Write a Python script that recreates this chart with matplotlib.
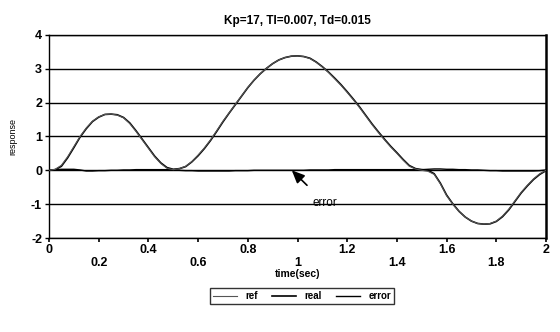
import numpy as np
import matplotlib.pyplot as plt

t = [0.000, 0.025, 0.050, 0.075, 0.100, 0.125, 0.150, 0.175, 0.200, 0.225,
     0.250, 0.275, 0.300, 0.325, 0.350, 0.375, 0.400, 0.425, 0.450, 0.475,
     0.500, 0.525, 0.550, 0.575, 0.600, 0.625, 0.650, 0.675, 0.700, 0.725,
     0.750, 0.775, 0.800, 0.825, 0.850, 0.875, 0.900, 0.925, 0.950, 0.975,
     1.000, 1.025, 1.050, 1.075, 1.100, 1.125, 1.150, 1.175, 1.200, 1.225,
     1.250, 1.275, 1.300, 1.325, 1.350, 1.375, 1.400, 1.425, 1.450, 1.475,
     1.500, 1.525, 1.550, 1.575, 1.600, 1.625, 1.650, 1.675, 1.700, 1.725,
     1.750, 1.775, 1.800, 1.825, 1.850, 1.875, 1.900, 1.925, 1.950, 1.975, 2.000]
ref = [0.00, 0.03, 0.15, 0.40, 0.70, 1.00, 1.25, 1.45, 1.58, 1.65,
       1.66, 1.63, 1.55, 1.38, 1.15, 0.90, 0.65, 0.40, 0.20, 0.06,
       0.02, 0.05, 0.12, 0.26, 0.45, 0.66, 0.90, 1.17, 1.45, 1.70,
       1.95, 2.20, 2.45, 2.66, 2.85, 3.01, 3.15, 3.26, 3.33, 3.37,
       3.38, 3.36, 3.30, 3.19, 3.05, 2.89, 2.70, 2.51, 2.30, 2.08,
       1.85, 1.60, 1.35, 1.12, 0.90, 0.69, 0.50, 0.30, 0.12, 0.04,
       0.00, -0.03, -0.12, -0.40, -0.75, -1.00, -1.22, -1.38, -1.50, -1.57,
       -1.59, -1.57, -1.50, -1.35, -1.15, -0.90, -0.65, -0.44, -0.25, -0.10, 0.00]
real = [0.00, 0.02, 0.12, 0.37, 0.67, 0.98, 1.23, 1.44, 1.57, 1.65,
        1.66, 1.64, 1.56, 1.40, 1.17, 0.92, 0.67, 0.42, 0.22, 0.08,
        0.03, 0.05, 0.11, 0.25, 0.43, 0.64, 0.88, 1.15, 1.43, 1.69,
        1.94, 2.19, 2.44, 2.66, 2.85, 3.01, 3.15, 3.26, 3.33, 3.37,
        3.38, 3.36, 3.31, 3.20, 3.06, 2.90, 2.72, 2.53, 2.32, 2.10,
        1.87, 1.62, 1.37, 1.14, 0.92, 0.71, 0.52, 0.32, 0.14, 0.05,
        0.02, 0.00, -0.10, -0.38, -0.73, -0.99, -1.21, -1.38, -1.50, -1.57,
        -1.59, -1.58, -1.51, -1.37, -1.17, -0.92, -0.67, -0.46, -0.27, -0.12, -0.01]
error = [0.00, 0.02, 0.03, 0.03, 0.03, 0.01, -0.02, -0.02, -0.01, -0.01,
         0.00, 0.00, 0.01, 0.01, 0.02, 0.02, 0.02, 0.02, 0.02, 0.02,
         0.01, 0.00, -0.01, -0.01, -0.02, -0.02, -0.02, -0.02, -0.02, -0.02,
         -0.01, -0.01, -0.01, 0.00, 0.00, 0.00, 0.00, 0.00, 0.00, 0.00,
         0.00, 0.00, 0.01, 0.01, 0.01, 0.01, 0.02, 0.02, 0.02, 0.02,
         0.02, 0.02, 0.02, 0.02, 0.02, 0.02, 0.02, 0.02, 0.02, 0.02,
         0.02, 0.03, 0.04, 0.04, 0.03, 0.03, 0.02, 0.02, 0.01, 0.01,
         0.00, -0.01, -0.01, -0.02, -0.02, -0.02, -0.02, -0.02, -0.02, -0.01, 0.01]

xticks = [0, 0.2, 0.4, 0.6, 0.8, 1.0, 1.2, 1.4, 1.6, 1.8, 2.0]
xlabels = ['0', '0.2', '0.4', '0.6', '0.8', '1', '1.2', '1.4', '1.6', '1.8', '2']
yticks = [-2, -1, 0, 1, 2, 3, 4]

plt.rcParams['font.family'] = ['Liberation Sans', 'DejaVu Sans']

fig = plt.figure(figsize=(5.6, 3.32), dpi=100)
ax = fig.add_axes([0.0875, 0.283, 0.8875, 0.612])

for yv in yticks:
    ax.axhline(yv, color='black', linewidth=1.0, zorder=1)

ax.plot(t, ref, color='#555555', linewidth=0.8, label='ref', zorder=3)
ax.plot(t, real, color='black', linewidth=1.2, label='real', zorder=2)
ax.plot(t, error, color='black', linewidth=1.0, label='error', zorder=2)

ax.set_xlim(0, 2)
ax.set_ylim(-2, 4)
ax.set_xticks(xticks)
# alternate tick labels on two rows
ax.set_xticklabels([lab if i % 2 == 0 else '\n' + lab for i, lab in enumerate(xlabels)],
                   fontweight='bold', fontsize=9)
ax.set_yticks(yticks)
ax.set_yticklabels([str(v) for v in yticks], fontweight='bold', fontsize=9)
ax.tick_params(axis='x', direction='out', length=3, width=1.2, pad=1)
ax.tick_params(axis='y', direction='out', length=3, width=1.0, pad=2)
for side in ['left', 'bottom', 'top']:
    ax.spines[side].set_linewidth(1.0)
ax.spines['right'].set_linewidth(1.8)

ax.set_title('Kp=17, TI=0.007, Td=0.015', fontsize=8.5, fontweight='bold', pad=8)
ax.set_xlabel('time(sec)', fontsize=7.5, fontweight='bold', labelpad=0)
ax.set_ylabel('response', fontsize=6.5, labelpad=10)

ax.annotate('error', xy=(0.977, 0.0), xytext=(1.11, -0.96),
            fontsize=8.5, ha='center', va='center',
            arrowprops=dict(arrowstyle='-|>,head_length=0.9,head_width=0.4',
                            color='black', lw=1.2, shrinkA=9, shrinkB=0))

fig.legend(loc='center', bbox_to_anchor=(0.539, 0.108), ncol=3,
           frameon=True, fancybox=False, edgecolor='black', handlelength=2.5,
           columnspacing=1.5, borderpad=0.3, prop={'weight': 'bold', 'size': 7})

fig.savefig('out.png', dpi=100)
